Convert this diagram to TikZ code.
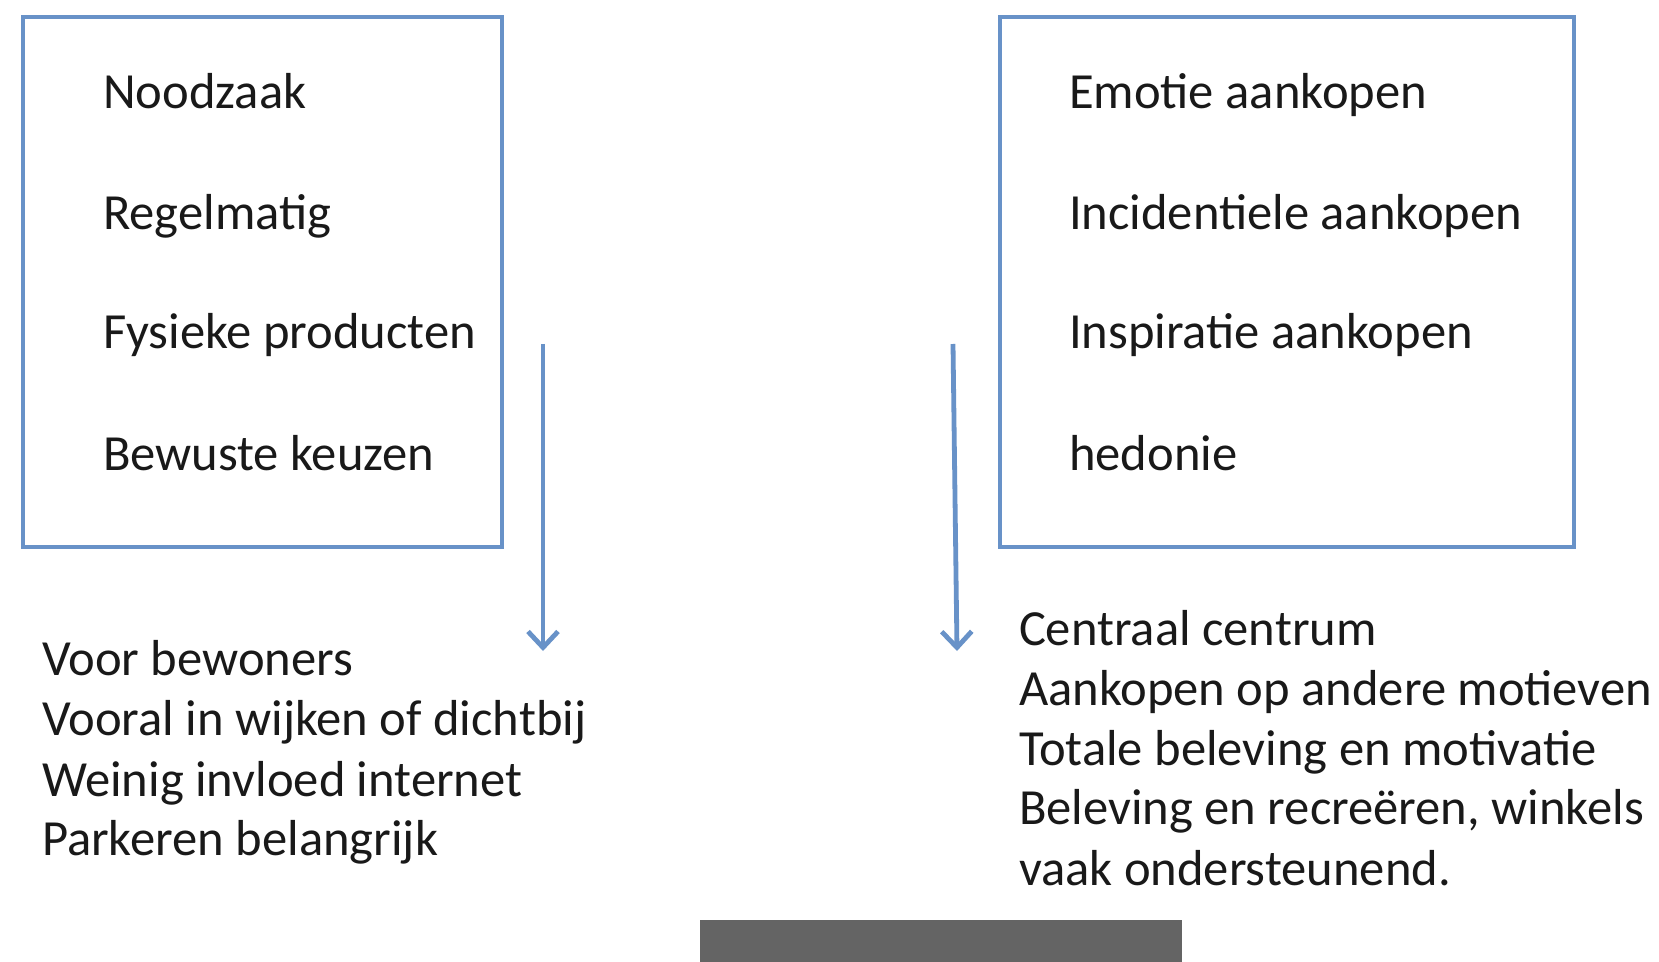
\documentclass[tikz,border=0pt]{standalone}
\usepackage{fontspec}
\setmainfont{Carlito}
\usetikzlibrary{arrows.meta}
\definecolor{boxblue}{RGB}{104,146,200}
\definecolor{bargray}{RGB}{100,100,100}
\tikzset{
  frame/.style={draw=boxblue,line width=2.1pt,inner sep=0pt,anchor=north west},
  txt/.style={anchor=base west,inner sep=0pt,outer sep=0pt,font=\fontsize{25.3}{30}\selectfont,text=black!90},
  flow/.style={draw=boxblue,line width=2.4pt,-{Straight Barb[length=8pt,width=15pt,line width=2.4pt]}}
}
\begin{document}
\begin{tikzpicture}[x=0.5pt,y=-0.5pt]
\useasboundingbox (0,0) rectangle (1659,962);
% boxes
\node[frame,minimum width=239.5pt,minimum height=265pt] (lbox) at (21,15) {};
\node[frame,minimum width=287pt,minimum height=265pt] (rbox) at (998,15) {};
% left box texts
\node[txt] (l1) at (103,109) {Noodzaak};
\node[txt] (l2) at (103,230) {Regelmatig};
\node[txt] (l3) at (103,349) {Fysieke producten};
\node[txt] (l4) at (103,470) {Bewuste keuzen};
% right box texts
\node[txt] (r1) at (1069,109) {Emotie aankopen};
\node[txt] (r2) at (1069,230) {Incidentiele aankopen};
\node[txt] (r3) at (1069,349) {Inspiratie aankopen};
\node[txt] (r4) at (1069,470) {hedonie};
% arrows
\coordinate (la1) at (543,344);
\coordinate (la2) at (543,651);
\coordinate (ra1) at (953,344);
\coordinate (ra2) at (957,651);
\draw[flow] (la1) -- (la2);
\draw[flow] (ra1) -- (ra2);
% bottom left texts
\node[txt] (b1) at (42,675) {Voor bewoners};
\node[txt] (b2) at (42,735) {Vooral in wijken of dichtbij};
\node[txt] (b3) at (42,796) {Weinig invloed internet};
\node[txt] (b4) at (42,855) {Parkeren belangrijk};
% bottom right texts
\node[txt] (c1) at (1019,645) {Centraal centrum};
\node[txt] (c2) at (1019,705) {Aankopen op andere motieven};
\node[txt] (c3) at (1019,765) {Totale beleving en motivatie};
\node[txt] (c4) at (1019,824) {Beleving en recreëren, winkels};
\node[txt] (c5) at (1019,885) {vaak ondersteunend.};
% gray bar
\fill[bargray] (700,920) rectangle (1182,962);
\end{tikzpicture}
\end{document}
